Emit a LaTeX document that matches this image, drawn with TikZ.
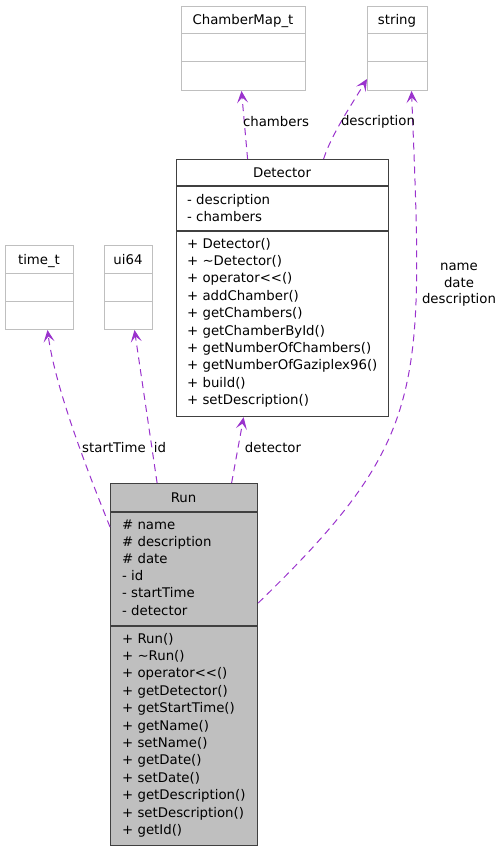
\documentclass[tikz,border=0pt]{standalone}
\usepackage{fontspec}
\setmainfont{DejaVu Sans}
\usepackage{xcolor}
\usepackage{tikz}
\usetikzlibrary{arrows.meta}

\definecolor{edgepurple}{HTML}{9A32CD}
\definecolor{boxgray}{HTML}{BFBFBF}
\definecolor{framegray}{HTML}{404040}

\begin{document}
\begin{tikzpicture}[x=1pt,y=-1pt]
			\tikzstyle{extclass} = [draw=boxgray, fill=white, line width=1pt, minimum height=84pt, inner sep=0pt, anchor=north west]
			\tikzstyle{mainclass} = [draw=framegray, line width=1.2pt, inner sep=0pt, anchor=north west]
			\tikzstyle{title} = [anchor=base, inner sep=0pt, font=\fontsize{13.3}{17.4}\selectfont]
			\tikzstyle{member} = [anchor=base west, inner sep=0pt, font=\fontsize{13.3}{17.4}\selectfont]
			\tikzstyle{elabel} = [inner sep=0pt, font=\fontsize{13.3}{16.5}\selectfont]
			\tikzset{edge/.style = {->, > = {Stealth[length=12pt,width=11pt,inset=5.5pt]}, draw=edgepurple, line width=1pt, dash pattern=on 7pt off 5pt}}
			
			\useasboundingbox (0,0) rectangle (503,851);
			
			% classes used by Detector and Run
			\node[extclass, minimum width=124pt](cmap) at (181,6) {};
			\node[extclass, minimum width=60pt](str) at (367,6) {};
			\node[extclass, minimum width=68pt](timet) at (5,245) {};
			\node[extclass, minimum width=48pt](ui) at (104,245) {};
			\foreach \b in {cmap,str,timet,ui}
				\draw[boxgray, line width=1pt] ([yshift=-28pt]\b.north west) -- ([yshift=-28pt]\b.north east)
					([yshift=-56pt]\b.north west) -- ([yshift=-56pt]\b.north east);
			\node[title](cmap-t) at (243,25) {ChamberMap\_t};
			\node[title](str-t) at (397,25) {string};
			\node[title](timet-t) at (39,264) {time\_t};
			\node[title](ui-t) at (128,264) {ui64};
			
			% Detector
			\node[mainclass, fill=white, minimum width=212pt, minimum height=257pt](det) at (176,159) {};
			\draw[framegray, line width=1.2pt] ([yshift=-27pt]det.north west) -- ([yshift=-27pt]det.north east)
				([yshift=-72pt]det.north west) -- ([yshift=-72pt]det.north east);
			\node[title](det-t) at (282,177) {Detector};
			\foreach \m [count=\i from 0] in {- description,- chambers}
				\node[member](det-a\i) at (187,204+17*\i) {\m};
			\foreach \m [count=\i from 0] in {+ Detector(),+ \textasciitilde Detector(),+ operator<\kern0pt<(),+ addChamber(),+ getChambers(),+ getChamberById(),+ getNumberOfChambers(),+ getNumberOfGaziplex96(),+ build(),+ setDescription()}
				\node[member](det-m\i) at (187,248+17.4*\i) {\m};
			
			% Run
			\node[mainclass, fill=boxgray, minimum width=147pt, minimum height=362pt](run) at (110,483) {};
			\draw[framegray, line width=1.2pt] ([yshift=-29pt]run.north west) -- ([yshift=-29pt]run.north east)
				([yshift=-143pt]run.north west) -- ([yshift=-143pt]run.north east);
			\node[title](run-t) at (183.5,502) {Run};
			\foreach \m [count=\i from 0] in {\# name,\# description,\# date,- id,- startTime,- detector}
				\node[member](run-a\i) at (122,529+17.2*\i) {\m};
			\foreach \m [count=\i from 0] in {+ Run(),+ \textasciitilde Run(),+ operator<\kern0pt<(),+ getDetector(),+ getStartTime(),+ getName(),+ setName(),+ getDate(),+ setDate(),+ getDescription(),+ setDescription(),+ getId()}
				\node[member](run-m\i) at (122,643+17.4*\i) {\m};
			
			% relations
			\draw[edge] ([xshift=-35pt]det.north) -- ([xshift=-2pt]cmap.south);
			\draw[edge] ([xshift=41pt]det.north) .. controls +(8,-25) and +(-15,25) .. ([yshift=12pt]str.south west);
			\draw[edge] ([yshift=-44pt]run.north west) .. controls +(-20,-50) and +(8,60) .. ([xshift=8pt]timet.south);
			\draw[edge] ([xshift=-27pt]run.north) -- ([xshift=6pt]ui.south);
			\draw[edge] ([xshift=47.5pt]run.north) -- ([xshift=-39pt]det.south);
			\draw[edge] ([yshift=-120pt]run.north east) .. controls +(170,-165) and +(12,300) .. ([xshift=14pt]str.south);
			
			\node[elabel](l-cham) at (276,122) {chambers};
			\node[elabel](l-desc) at (378,122) {description};
			\node[elabel](l-start) at (114,448) {startTime};
			\node[elabel](l-id) at (160,448) {id};
			\node[elabel](l-det) at (273,448) {detector};
			\node[elabel, align=center](l-str) at (459,285) {name\\date\\description};
\end{tikzpicture}
\end{document}
